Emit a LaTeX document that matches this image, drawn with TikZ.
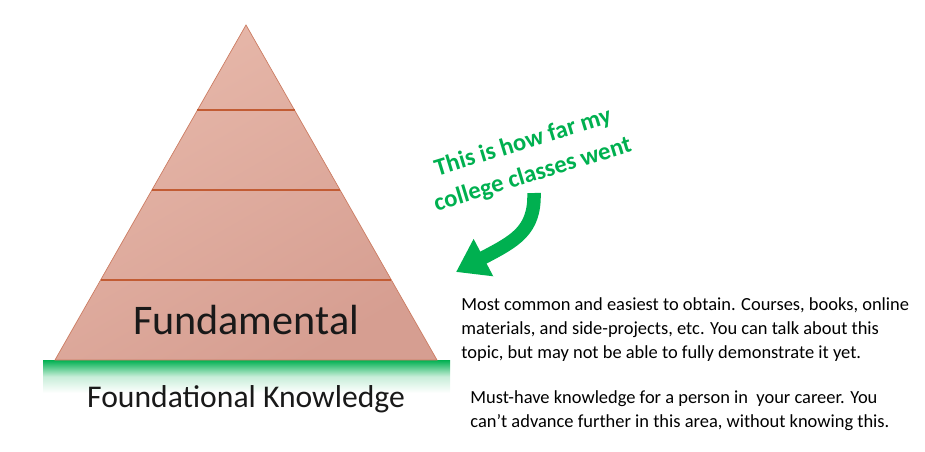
\documentclass[tikz,border=0pt]{standalone}
\usepackage{fontspec}
\setmainfont{Carlito}
\usetikzlibrary{positioning}
\usetikzlibrary{calc}
\usetikzlibrary{arrows.meta}

\definecolor{pyramidlight}{RGB}{231,184,170}
\definecolor{pyramiddark}{RGB}{214,158,145}
\definecolor{pyramidedge}{RGB}{204,124,98}
\definecolor{layerline}{RGB}{194,92,52}
\definecolor{notegreen}{RGB}{0,176,80}

\begin{document}
\begin{tikzpicture}[
        level line/.style={draw=layerline, line width=1.1pt},
        level label/.style={font=\fontsize{24}{28}\selectfont, text=black!90},
        base label/.style={font=\fontsize{18}{22}\selectfont, text=black!90},
        side text/.style={font=\fontsize{10.5}{13.7}\selectfont, align=left, inner sep=0pt, anchor=north west},
        note/.style={font=\bfseries\fontsize{14}{19}\selectfont, text=notegreen, align=center, rotate=17},
        note arrow/.style={draw=notegreen, line width=0.27cm, -{Triangle[length=0.62cm, width=0.8cm]}},
    ]

    \useasboundingbox (0,0) rectangle (18.5,9.02);

    % Ground bar under the pyramid
    \shade[top color=notegreen, bottom color=white, middle color=notegreen!22] (0.86,1.82) rectangle (9.0,1.16);

    % Pyramid outline
    \coordinate (apex) at (4.92,8.52);
    \coordinate (base left) at (1.10,1.82);
    \coordinate (base right) at (8.74,1.82);
    \shade[draw=pyramidedge, thin, shading=axis, top color=pyramidlight, bottom color=pyramiddark, shading angle=30]
        (apex) -- (base left) -- (base right) -- cycle;

    % Layer lines
    \draw[level line] ($(apex)!0.254!(base left)$) -- ($(apex)!0.254!(base right)$);
    \draw[level line] ($(apex)!0.493!(base left)$) -- ($(apex)!0.493!(base right)$);
    \draw[level line] ($(apex)!0.761!(base left)$) -- ($(apex)!0.761!(base right)$);

    % Labels
    \node[level label] (fundamental) at (4.92,2.62) {Fundamental};
    \node[base label] (foundational) at (4.92,1.04) {Foundational Knowledge};

    % Side notes
    \node[side text] (fundamental text) at (9.22,3.08) {Most common and easiest to obtain. Courses, books, online\\materials, and side-projects, etc. You can talk about this\\topic, but may not be able to fully demonstrate it yet.};
    \node[side text] (foundational text) at (9.40,1.22) {Must-have knowledge for a person in \ your career. You\\can’t advance further in this area, without knowing this.};

    % Green remark and arrow
    \node[note] (remark) at (10.56,5.84) {This is how far my\\college classes went};
    \coordinate (arrow start) at (10.68,5.16);
    \coordinate (arrow tip) at (9.12,3.58);
    \draw[note arrow] (arrow start) .. controls (10.70,4.40) and (10.30,4.20) .. (arrow tip);

\end{tikzpicture}
\end{document}
